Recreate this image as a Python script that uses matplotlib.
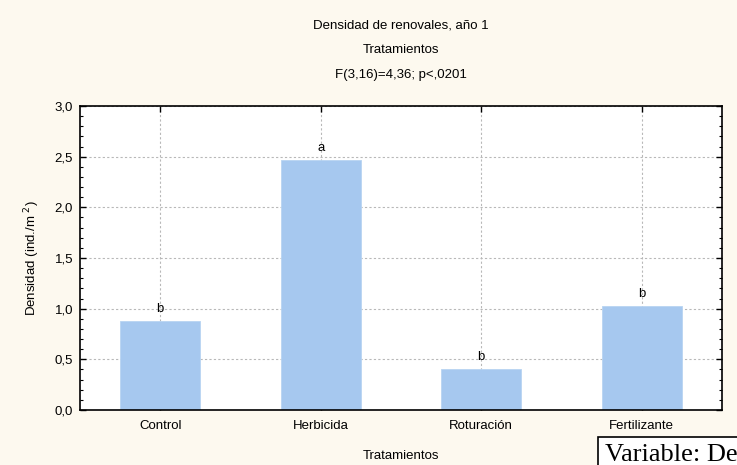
import matplotlib
matplotlib.use("Agg")
import matplotlib.pyplot as plt
from matplotlib.ticker import MultipleLocator
import numpy as np

plt.rcParams['font.family'] = ['Liberation Sans', 'DejaVu Sans']

tratamientos = ["Control", "Herbicida", "Roturación", "Fertilizante"]
densidad = [0.88, 2.47, 0.40, 1.03]
letras = ["b", "a", "b", "b"]
yticks = [0.0, 0.5, 1.0, 1.5, 2.0, 2.5, 3.0]
ytick_labels = ["0,0", "0,5", "1,0", "1,5", "2,0", "2,5", "3,0"]

titulo = ["Densidad de renovales, año 1", "Tratamientos", "F(3,16)=4,36; p<,0201"]

FS = 9.5

fig = plt.figure(figsize=(7.37, 4.65), dpi=100)
fig.patch.set_facecolor("#fdf9ef")

ax = fig.add_axes([80 / 737, 1 - 410 / 465, 642 / 737, 304 / 465])
ax.set_facecolor("white")

x = np.arange(len(tratamientos))
ax.bar(x, densidad, width=0.5, color="#a6c8ef", edgecolor="#b8d4f2", linewidth=0.6, zorder=2)

for xi, v, l in zip(x, densidad, letras):
    ax.text(xi, v + 0.06, l, ha="center", va="bottom", fontsize=FS, zorder=3)

ax.set_xlim(-0.5, 3.5)
ax.set_ylim(0, 3.0)
ax.set_xticks(x)
ax.set_xticklabels(tratamientos, fontsize=FS)
ax.set_yticks(yticks)
ax.set_yticklabels(ytick_labels, fontsize=FS)
ax.yaxis.set_minor_locator(MultipleLocator(0.1))

ax.tick_params(axis="both", which="both", direction="in", top=True, right=True, color="black")
ax.tick_params(axis="y", which="major", length=4, width=1, pad=5)
ax.tick_params(axis="y", which="minor", length=2.5, width=0.8)
ax.tick_params(axis="x", which="major", length=4, width=1, pad=7)

ax.grid(True, which="major", linestyle=(0, (2, 2)), color="#b8b8b8", linewidth=0.8, zorder=0)
ax.set_axisbelow(True)

for s in ax.spines.values():
    s.set_linewidth(1.2)
    s.set_color("black")

ax.set_xlabel("Tratamientos", fontsize=FS, labelpad=13)
ax.set_ylabel("Densidad (ind./m $^2$)", fontsize=FS, labelpad=9)

for i, t in enumerate(titulo):
    fig.text(0.5 * (80 + 722) / 737, 1 - (25 + 25 * i) / 465, t, ha="center", va="center", fontsize=FS)

fig.text(605 / 737, 1 - 461 / 465, "Variable: Densidad", family="Liberation Serif", fontsize=19,
         ha="left", va="baseline",
         bbox=dict(boxstyle="square,pad=0.25", facecolor="white", edgecolor="black", linewidth=1.2))

fig.savefig("out.png", dpi=100, facecolor=fig.get_facecolor())
